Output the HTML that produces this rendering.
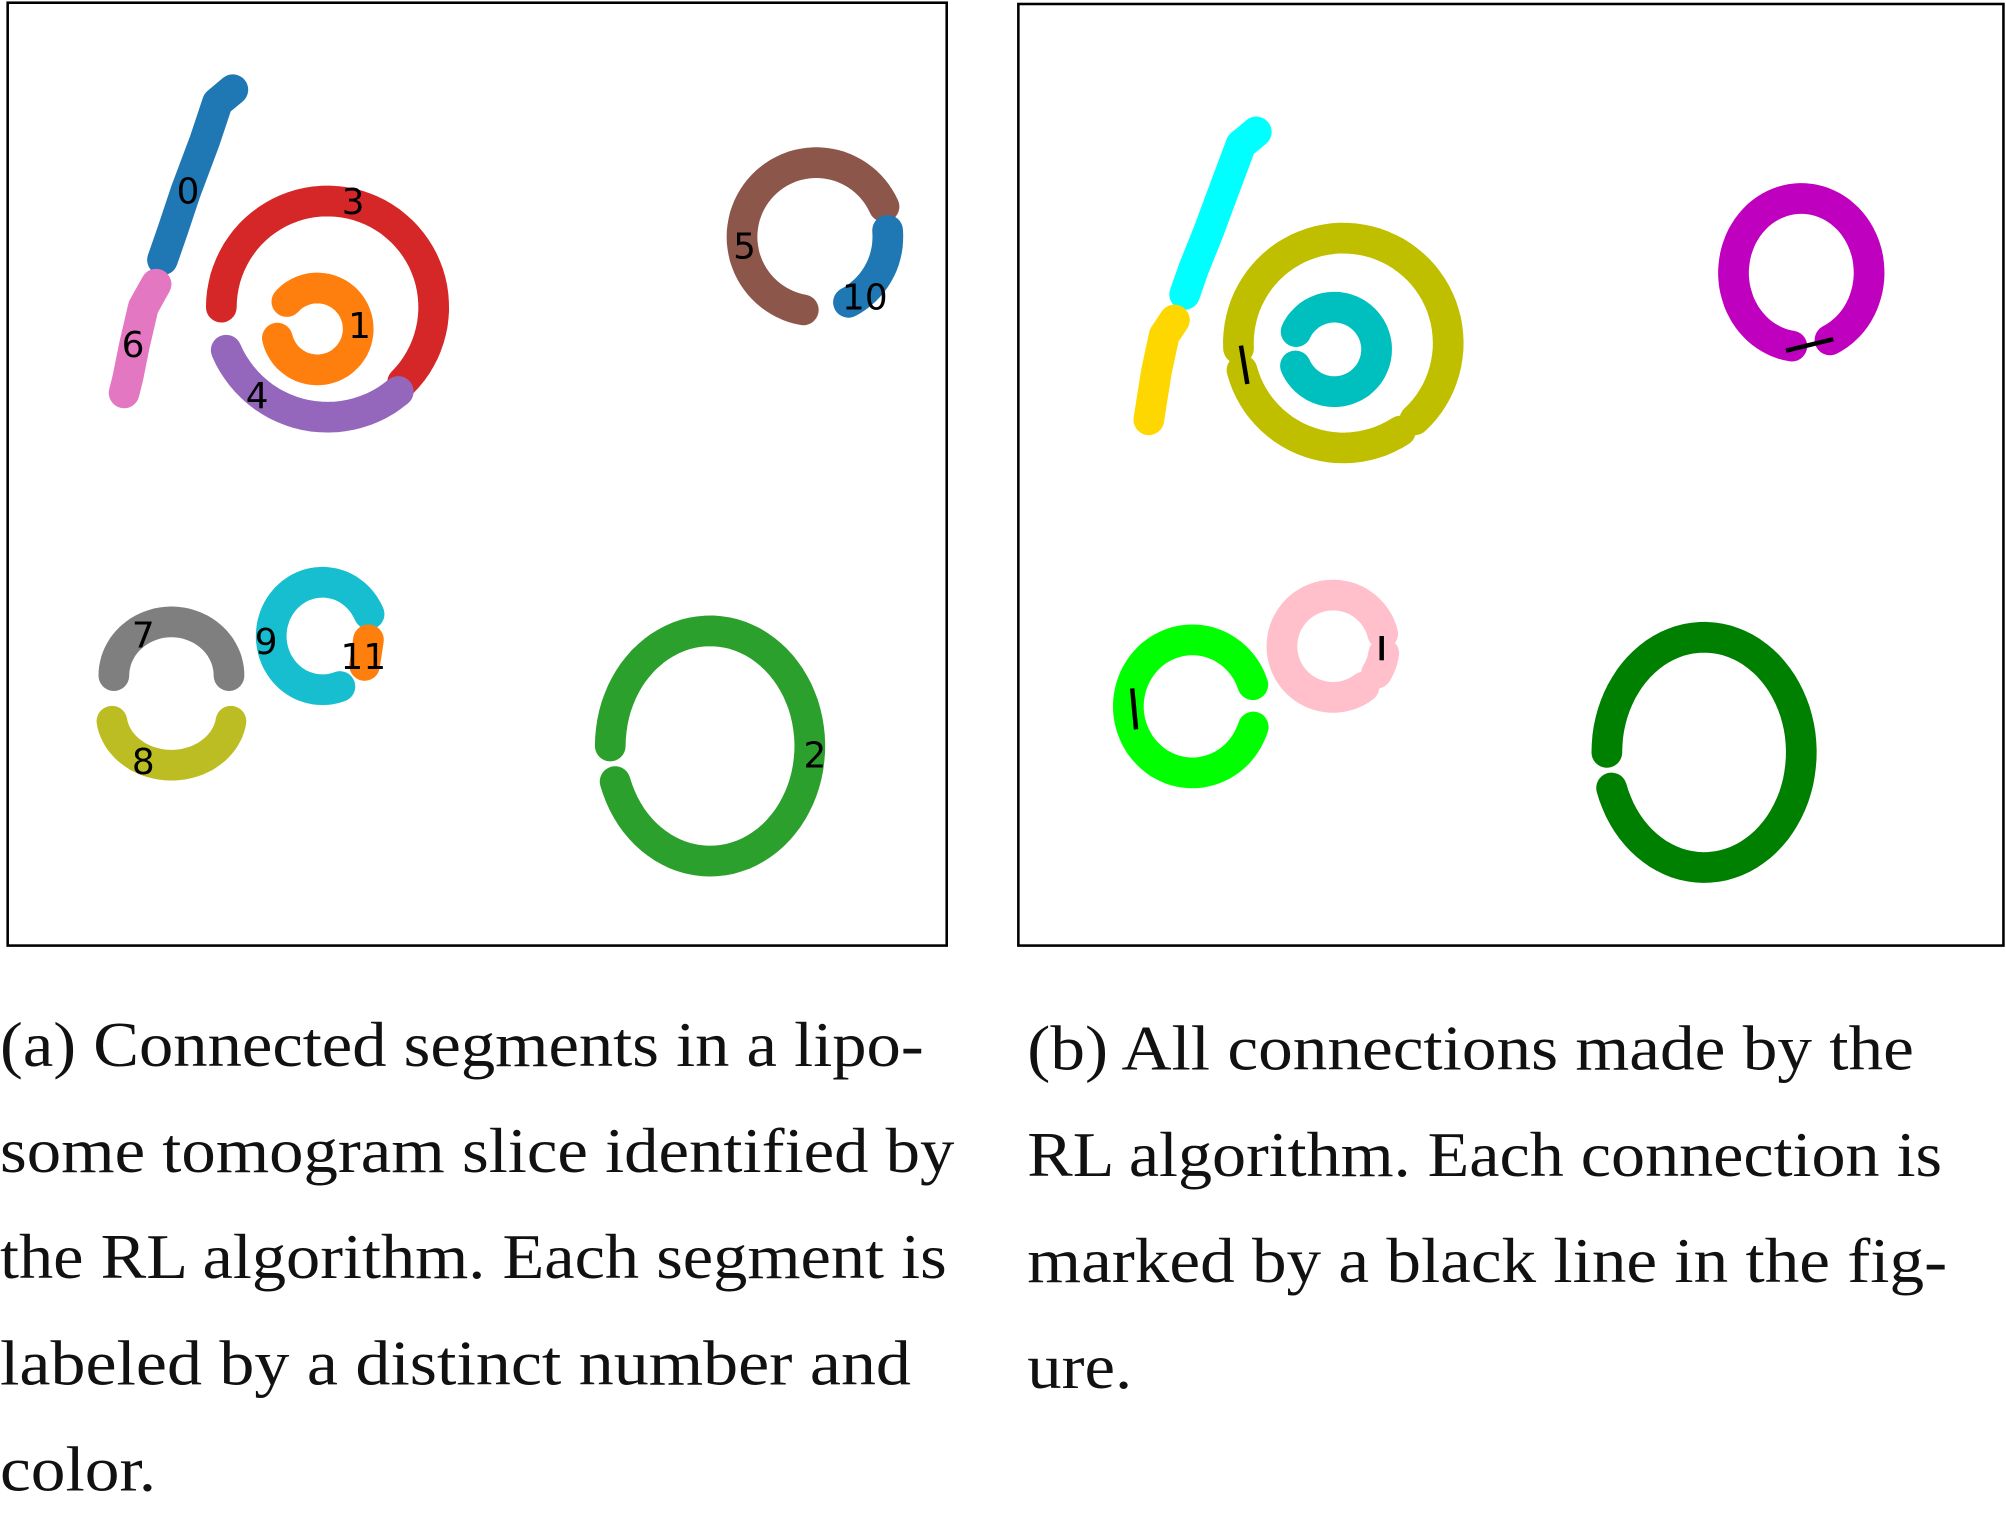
<!DOCTYPE html>
<html><head><meta charset="utf-8"><style>
html,body{margin:0;padding:0;background:#fff;}
svg{display:block;}
</style></head><body>
<svg id="fig" width="2006" height="1524" viewBox="0 0 1568 1191" xmlns="http://www.w3.org/2000/svg">
<rect x="0" y="0" width="1568" height="1191" fill="#fff"/>
<rect x="6" y="2" width="734" height="737" fill="none" stroke="#000" stroke-width="2"/>
<rect x="796" y="3" width="770" height="736" fill="none" stroke="#000" stroke-width="2"/>
<g id="gA"></g><g id="gB"></g><g id="gLbl"></g>
<g font-family="'Liberation Serif', serif" font-size="50" fill="#111">
<text x="0" y="833" textLength="722" lengthAdjust="spacingAndGlyphs">(a) Connected segments in a lipo-</text>
<text x="0" y="916" textLength="746" lengthAdjust="spacingAndGlyphs">some tomogram slice identified by</text>
<text x="0" y="999" textLength="740" lengthAdjust="spacingAndGlyphs">the RL algorithm. Each segment is</text>
<text x="0" y="1082" textLength="712" lengthAdjust="spacingAndGlyphs">labeled by a distinct number and</text>
<text x="0" y="1165" textLength="122" lengthAdjust="spacingAndGlyphs">color.</text>
<text x="803" y="836" textLength="693" lengthAdjust="spacingAndGlyphs">(b) All connections made by the</text>
<text x="803" y="919" textLength="715" lengthAdjust="spacingAndGlyphs">RL algorithm. Each connection is</text>
<text x="803" y="1002" textLength="719" lengthAdjust="spacingAndGlyphs">marked by a black line in the fig-</text>
<text x="803" y="1085" textLength="82" lengthAdjust="spacingAndGlyphs">ure.</text>
</g>
</svg>
<script>
// segment ids, colors, geometry (arc: cx,cy,rx,ry,startDeg,endDeg)
const segIdsA = ['0','6','3','1','4','5','10','7','8','9','11','2'];
const segColorsA = ['#1f77b4','#e377c2','#d62728','#ff7f0e','#9467bd','#8c564b','#1f77b4','#7f7f7f','#bcbd22','#17becf','#ff7f0e','#2ca02c'];
const segShapesA = [
  {pts:[[182,70],[170,80],[160,110],[145,150],[135,180],[127,203]]},
  {pts:[[122,222],[112,240],[105,270],[100,295],[97,307]]},
  {arc:[256,240,83,83,180,405]},
  {arc:[248,257,32,32,222,527]},
  {arc:[256,240,86,86,50,157]},
  {arc:[638,185,58,58,100,336]},
  {arc:[636,185,58,58,-5,62]},
  {arc:[134,528,45,42,180,360]},
  {arc:[134,558,47,40,8,172]},
  {arc:[252,497,40,42,70,336]},
  {pts:[[288,500],[285,520]]},
  {arc:[555,583,78,90,180,522]}
];
const labelTextA = ['0','3','1','6','4','5','10','7','9','11','8','2'];
const labelXA = [147,276,281,104,201,582,676,112,208,284,112,637];
const labelYA = [150,158,255,270,310,193,233,497,502,514,596,591];

const segNamesB = ['cyan-line','gold-line','olive-arc-upper','olive-arc-lower','teal-arc','magenta-ring','lime-ring','pink-ring','pink-piece','darkgreen-ring'];
const segColorsB = ['#00ffff','#ffd700','#bfbf00','#bfbf00','#00bfbf','#bf00bf','#00ff00','#ffc0cb','#ffc0cb','#008000'];
const segShapesB = [
  {pts:[[982,103],[970,113],[958,145],[945,180],[933,210],[926,230]]},
  {pts:[[918,250],[910,262],[904,290],[900,315],[898,328]]},
  {arc:[1050,268,82,82,177,407]},
  {arc:[1050,268,82,82,57,165]},
  {arc:[1043,273,33,33,205,517]},
  {arc:[1408,213,53,58,98,425]},
  {arc:[932,552,50,52,18,341]},
  {arc:[1042,505,40,40,53,346]},
  {arc:[1042,505,40,40,8,32]},
  {arc:[1332,588,76,90,180,522]}
];
const connectorsB = [[[970,270],[975,300]],[[1396,274],[1433,265]],[[885,538],[888,570]],[[1080,497],[1080,516]]];

const NS='http://www.w3.org/2000/svg';
function shapePoints(s){
  if(s.pts) return s.pts;
  const [cx,cy,rx,ry,a0,a1]=s.arc; const out=[];
  const n=Math.max(4,Math.ceil(Math.abs(a1-a0)/4));
  for(let i=0;i<=n;i++){const a=(a0+(a1-a0)*i/n)*Math.PI/180;out.push([cx+rx*Math.cos(a),cy+ry*Math.sin(a)]);}
  return out;
}
function drawSeg(g,s,color,w){
  const p=document.createElementNS(NS,'polyline');
  p.setAttribute('points',shapePoints(s).map(q=>q[0].toFixed(1)+','+q[1].toFixed(1)).join(' '));
  p.setAttribute('fill','none');p.setAttribute('stroke',color);p.setAttribute('stroke-width',w);
  p.setAttribute('stroke-linecap','round');p.setAttribute('stroke-linejoin','round');
  g.appendChild(p);return p;
}
const gA=document.getElementById('gA');
segShapesA.forEach((s,i)=>{
  const p=drawSeg(gA,s,segColorsA[i],24);
  
  
});
const gB=document.getElementById('gB');
segShapesB.forEach((s,i)=>{
  const p=drawSeg(gB,s,segColorsB[i],24);
  
  
});
connectorsB.forEach((c,i)=>{
  const l=document.createElementNS(NS,'line');
  l.setAttribute('x1',c[0][0]);l.setAttribute('y1',c[0][1]);l.setAttribute('x2',c[1][0]);l.setAttribute('y2',c[1][1]);
  l.setAttribute('stroke','#000');l.setAttribute('stroke-width','3.5');
  
  
  gB.appendChild(l);
});
const gL=document.getElementById('gLbl');
labelTextA.forEach((t,i)=>{
  const e=document.createElementNS(NS,'text');
  e.setAttribute('x',labelXA[i]);e.setAttribute('y',labelYA[i]);
  e.setAttribute('text-anchor','middle');e.setAttribute('dominant-baseline','central');
  e.setAttribute('font-family',"'DejaVu Sans', sans-serif");e.setAttribute('font-size','28');e.setAttribute('fill','#000');
  e.textContent=t;
  
  
  gL.appendChild(e);
});
</script>
</body></html>
